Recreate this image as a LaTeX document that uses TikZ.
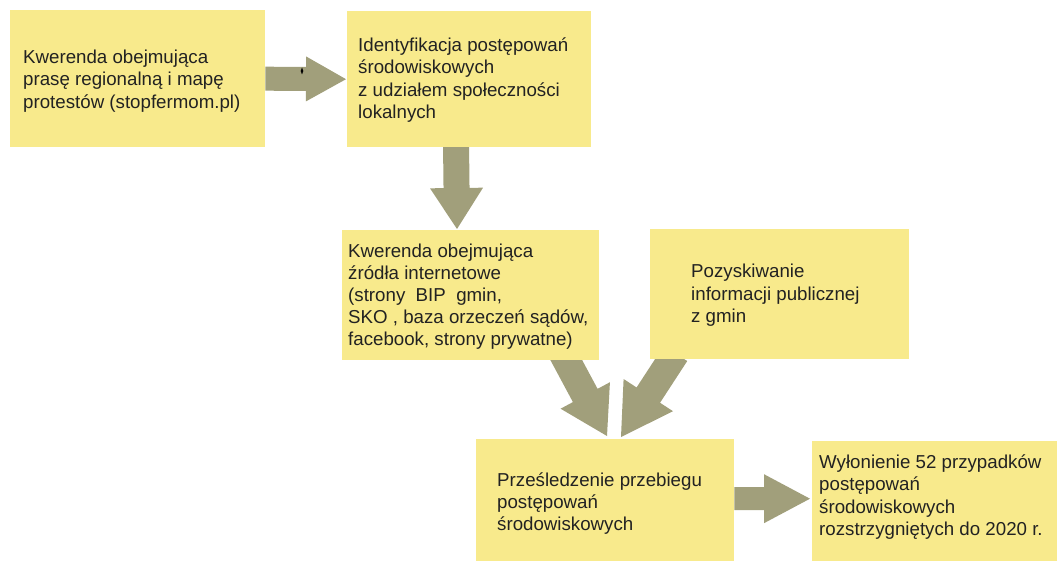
\documentclass[tikz,border=0pt]{standalone}
\usepackage{fontspec}
\setmainfont{Liberation Sans}
\usetikzlibrary{calc,backgrounds}
\definecolor{boxfill}{HTML}{F8EA8C}
\definecolor{arrfill}{HTML}{A19F7B}
\definecolor{txtcol}{HTML}{222222}
% #1 start, #2 tip, #3 shaft half width, #4 head half width, #5 head length
\newcommand\blockarr[5]{%
  \coordinate (ah) at ($(#2)!#5!(#1)$);
  \fill[arrfill] ($(#1)!#3!90:(#2)$) -- ($(ah)!#3!90:(#2)$) -- ($(ah)!#4!90:(#2)$)
    -- (#2) -- ($(ah)!#4!-90:(#2)$) -- ($(ah)!#3!-90:(#2)$) -- ($(#1)!#3!-90:(#2)$) -- cycle;}
\newcommand\lines[1]{\begin{tabular}[t]{@{}l@{}}#1\end{tabular}}
\begin{document}
\begin{tikzpicture}[x=1bp,y=-1bp,
  box/.style={fill=boxfill, draw=none, inner sep=0pt, anchor=north west},
  txt/.style={anchor=base west, inner sep=0pt, text=txtcol,
    font=\fontsize{18.7bp}{22.4bp}\selectfont}]
\useasboundingbox (0,0) rectangle (1057,562);
% boxes
\node[box, minimum width=255bp, minimum height=137bp] (b1) at (10,10) {};
\node[box, minimum width=244bp, minimum height=136bp] (b2) at (347,11) {};
\node[box, minimum width=257bp, minimum height=130bp] (b3) at (342,230) {};
\node[box, minimum width=259bp, minimum height=130bp] (b4) at (650,229) {};
\node[box, minimum width=258bp, minimum height=122bp] (b5) at (476,439) {};
\node[box, minimum width=245bp, minimum height=120bp] (b6) at (812,441) {};
% texts
\node[txt] (t1) at ($(b1.north west)+(13,53.5)$) {\lines{Kwerenda obejmująca\\prasę regionalną i mapę\\protestów (stopfermom.pl)}};
\node[txt] (t2) at ($(b2.north west)+(11,40.5)$) {\lines{Identyfikacja postępowań\\środowiskowych\\z udziałem społeczności\\lokalnych}};
\node[txt, font=\fontsize{18.7bp}{22bp}\selectfont] (t3) at ($(b3.north west)+(6,28)$) {\lines{Kwerenda obejmująca\\źródła internetowe\\(strony\ \ BIP\ \ gmin,\\SKO , baza orzeczeń sądów,\\facebook, strony prywatne)}};
\node[txt] (t4) at ($(b4.north west)+(41,49)$) {\lines{Pozyskiwanie\\informacji publicznej\\z gmin}};
\node[txt] (t5) at ($(b5.north west)+(21,47)$) {\lines{Prześledzenie przebiegu\\postępowań\\środowiskowych}};
\node[txt] (t6) at ($(b6.north west)+(7,27.5)$) {\lines{Wyłonienie 52 przypadków\\postępowań\\środowiskowych\\rozstrzygniętych do 2020 r.}};
% connectors
\coordinate (a1s) at (b1.east);
\coordinate (a1e) at ($(b2.west)+(-1,0)$);
\coordinate (a2s) at ($(b2.south west)+(109,-5)$);
\coordinate (a2e) at ($(b3.north west)+(115,-1)$);
\coordinate (a3s) at ($(b3.south west)+(218,-12)$);
\coordinate (a3e) at ($(b5.north west)+(131,-3)$);
\coordinate (a4s) at ($(b4.south west)+(25.5,-6)$);
\coordinate (a4e) at ($(b5.north west)+(145,-2)$);
\coordinate (a5s) at ($(b5.east)+(0,-1.5)$);
\coordinate (a5e) at ($(b6.west)+(-2,-2.5)$);
\begin{pgfonlayer}{background}
\blockarr{a1s}{a1e}{12bp}{22.5bp}{40bp}
\blockarr{a2s}{a2e}{13bp}{26.5bp}{41bp}
\blockarr{a3s}{a3e}{14bp}{28bp}{46bp}
\blockarr{a4s}{a4e}{14bp}{29.5bp}{50bp}
\blockarr{a5s}{a5e}{11.5bp}{24.5bp}{46bp}
\end{pgfonlayer}
% small mark on first arrow
\fill[black] (302,67.5) -- (303.3,71) -- (302,74.5) -- (300.7,71) -- cycle;
\end{tikzpicture}
\end{document}
